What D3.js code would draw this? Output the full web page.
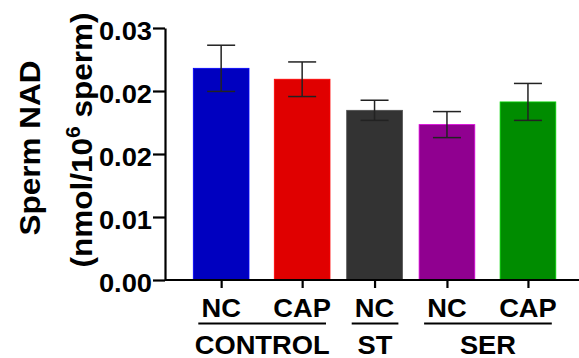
<!DOCTYPE html>
<html>
<head>
<meta charset="utf-8">
<script src="https://cdn.jsdelivr.net/npm/d3@7"></script>
<style>
	body { margin: 0; background: #fff; }
	text { font-family: "Liberation Sans", Arial, sans-serif; font-weight: bold; fill: #000; }
</style>
</head>
<body>
<div id="chart"></div>
<script>
// Data
const treatments = ["NC", "CAP", "NC", "NC", "CAP"];
const groups     = ["CONTROL", "CONTROL", "ST", "SER", "SER"];
const means      = [0.0252, 0.0239, 0.0202, 0.0185, 0.0212];
const errors     = [0.00275, 0.00206, 0.0012, 0.00155, 0.0022];
const yTicks      = [0, 0.0075, 0.015, 0.0225, 0.03];
const yTickLabels = ["0.00", "0.01", "0.02", "0.02", "0.03"];

// Styles
const colors = ["#0000c0", "#e00000", "#333333", "#900090", "#008c00"];

// Layout
const width = 579, height = 358;
const margin = { top: 28, bottom: 78, left: 165 };
const barWidth = 55.7, innerGap = 25.3, outerGap = 16.7, firstBar = 193.3;
const fontSize = 26, titleSize = 30;
const stretch = 1.05; // the original lettering is a bit wider than Arial

const svg = d3.select("#chart").append("svg")
	.attr("width", width).attr("height", height);

const y = d3.scaleLinear()
	.domain([0, 0.03])
	.range([height - margin.bottom, margin.top]);

// bars inside a group sit a little further apart than bars of different groups
const idx = d3.range(groups.length);
const starts = [];
let pos = firstBar;
idx.forEach(i => {
	if (i > 0) pos += barWidth + (groups[i] === groups[i - 1] ? innerGap : outerGap);
	starts.push(pos);
});
const x = d3.scaleOrdinal().domain(idx).range(starts);
const cx = i => x(i) + barWidth / 2;

// bars
svg.append("g").selectAll("rect")
	.data(idx)
	.join("rect")
	.attr("x", i => x(i))
	.attr("y", i => y(means[i]))
	.attr("width", barWidth)
	.attr("height", i => y(0) - y(means[i]))
	.attr("fill", i => colors[i])
	.attr("stroke", i => d3.color(colors[i]).brighter(1.2))
	.attr("stroke-width", 0.8);

// error bars
const err = svg.append("g").attr("stroke", "#222").attr("stroke-width", 1.5);
err.selectAll("line.v")
	.data(idx)
	.join("line").classed("v", true)
	.attr("x1", cx).attr("x2", cx)
	.attr("y1", i => y(means[i] - errors[i]))
	.attr("y2", i => y(means[i] + errors[i]));
err.selectAll("line.cap")
	.data(idx.flatMap(i => [[i, 1], [i, -1]]))
	.join("line").classed("cap", true)
	.attr("x1", d => cx(d[0]) - 14).attr("x2", d => cx(d[0]) + 14)
	.attr("y1", d => y(means[d[0]] + d[1] * errors[d[0]]))
	.attr("y2", d => y(means[d[0]] + d[1] * errors[d[0]]));

// y axis
const yAxis = svg.append("g")
	.attr("transform", `translate(${margin.left},0)`)
	.call(d3.axisLeft(y)
		.tickValues(yTicks)
		.tickFormat((d, i) => yTickLabels[i])
		.tickSize(12)
		.tickSizeOuter(0));
yAxis.selectAll("path, line").attr("stroke", "#000").attr("stroke-width", 2.2);
yAxis.selectAll("text")
	.attr("x", 0).attr("dy", "0.45em")
	.attr("font-size", fontSize)
	.attr("transform", `translate(-13,0) scale(${stretch},1)`);

// x axis
svg.append("line")
	.attr("x1", margin.left).attr("x2", width)
	.attr("y1", y(0)).attr("y2", y(0))
	.attr("stroke", "#000").attr("stroke-width", 2.2);
const xc = d3.scaleOrdinal().domain(idx).range(idx.map(cx));
const xAxis = svg.append("g")
	.attr("transform", `translate(0,${y(0)})`)
	.call(d3.axisBottom(xc).tickSize(8).tickFormat(""));
xAxis.select(".domain").remove();
xAxis.selectAll("line").attr("stroke", "#000").attr("stroke-width", 2.2);

// treatment labels
svg.append("g").selectAll("text")
	.data(idx)
	.join("text")
	.attr("text-anchor", "middle")
	.attr("font-size", fontSize)
	.attr("transform", i => `translate(${cx(i)},317) scale(${stretch},1)`)
	.text(i => treatments[i]);

// group underlines and labels
const spans = d3.groups(idx, i => groups[i]).map(([g, members]) => ({
	name: g,
	x1: x(members[0]) + 5,
	x2: x(members[members.length - 1]) + barWidth - 4
}));
const grp = svg.append("g");
grp.selectAll("line")
	.data(spans)
	.join("line")
	.attr("x1", d => d.x1).attr("x2", d => d.x2)
	.attr("y1", 323.5).attr("y2", 323.5)
	.attr("stroke", "#000").attr("stroke-width", 2);
grp.selectAll("text")
	.data(spans)
	.join("text")
	.attr("text-anchor", "middle")
	.attr("font-size", fontSize)
	.attr("transform", d => `translate(${(d.x1 + d.x2) / 2},353.5) scale(${stretch},1)`)
	.text(d => d.name);

// y title
svg.append("text")
	.attr("text-anchor", "middle")
	.attr("font-size", titleSize)
	.attr("transform", `translate(40,148) rotate(-90) scale(${stretch},1)`)
	.text("Sperm NAD");
const t2 = svg.append("text")
	.attr("text-anchor", "middle")
	.attr("font-size", titleSize)
	.attr("transform", `translate(92,140) rotate(-90) scale(${stretch},1)`);
t2.append("tspan").text("(nmol/10");
t2.append("tspan").attr("font-size", 20).attr("dy", -12).text("6");
t2.append("tspan").attr("dy", 12).text(" sperm)");
</script>
</body>
</html>
